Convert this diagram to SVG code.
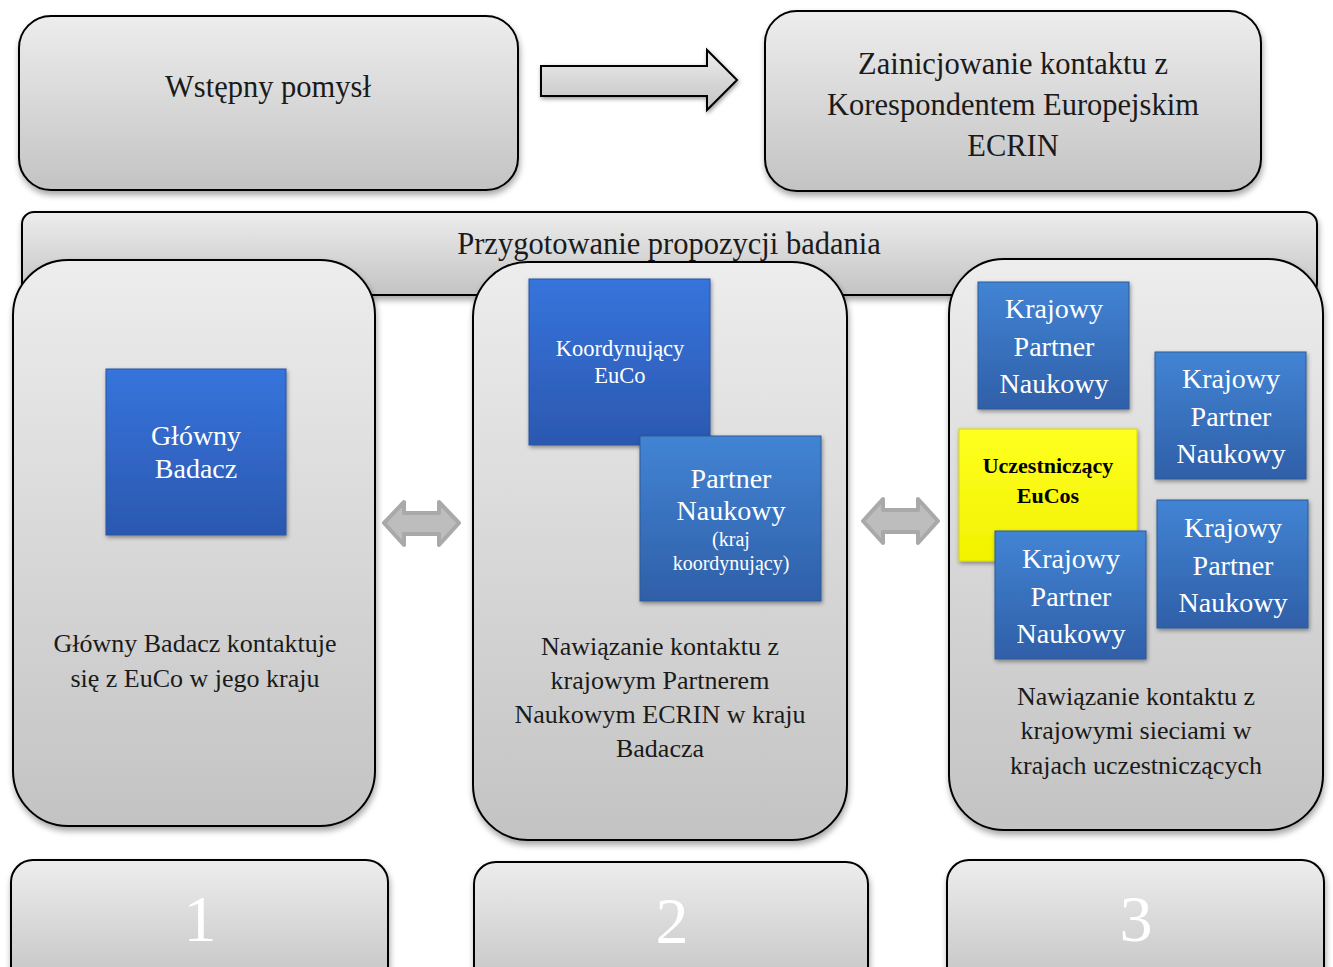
<svg xmlns="http://www.w3.org/2000/svg" width="1333" height="967" viewBox="0 0 1333 967">
<defs>
  <linearGradient id="gray" x1="0" y1="0" x2="0" y2="1">
    <stop offset="0" stop-color="#ededed"/>
    <stop offset="1" stop-color="#c3c3c3"/>
  </linearGradient>
  <linearGradient id="blue1" x1="0" y1="0" x2="0" y2="1">
    <stop offset="0" stop-color="#3674dc"/>
    <stop offset="1" stop-color="#2b58b0"/>
  </linearGradient>
  <linearGradient id="blue2" x1="0" y1="0" x2="0" y2="1">
    <stop offset="0" stop-color="#4284d4"/>
    <stop offset="1" stop-color="#2f5fa8"/>
  </linearGradient>
  <linearGradient id="yellow" x1="0" y1="0" x2="0" y2="1">
    <stop offset="0" stop-color="#ffff20"/>
    <stop offset="1" stop-color="#f2f200"/>
  </linearGradient>
  <filter id="sh" x="-10%" y="-10%" width="125%" height="125%">
    <feGaussianBlur in="SourceAlpha" stdDeviation="3"/>
    <feOffset dx="1" dy="4"/>
    <feComponentTransfer><feFuncA type="linear" slope="0.35"/></feComponentTransfer>
    <feMerge><feMergeNode/><feMergeNode in="SourceGraphic"/></feMerge>
  </filter>
  <filter id="sh2" x="-10%" y="-10%" width="125%" height="125%">
    <feGaussianBlur in="SourceAlpha" stdDeviation="2"/>
    <feOffset dx="1" dy="2"/>
    <feComponentTransfer><feFuncA type="linear" slope="0.4"/></feComponentTransfer>
    <feMerge><feMergeNode/><feMergeNode in="SourceGraphic"/></feMerge>
  </filter>
</defs>
<style>
  .gbox { fill: url(#gray); stroke: #000; stroke-width: 2; filter: url(#sh); }
  .b1 { fill: url(#blue1); stroke: #2a54a0; stroke-width: 1; filter: url(#sh2); }
  .b2 { fill: url(#blue2); stroke: #2c5a98; stroke-width: 1; filter: url(#sh2); }
  .yl { fill: url(#yellow); stroke: #d8d800; stroke-width: 1; filter: url(#sh2); }
  text { font-family: "Liberation Serif", "DejaVu Serif", serif; text-anchor: middle; }
  .dk { fill: #1a1a1a; font-size: 26px; }
  .big { fill: #1a1a1a; font-size: 30.5px; }
  .wt { fill: #ffffff; font-size: 28px; }
  .num { fill: #ffffff; font-size: 66px; }
  .dbl { fill: #bdbdbd; stroke: #a9a9a9; stroke-width: 4; stroke-linejoin: round; }
  .arr { fill: url(#gray); stroke: #000; stroke-width: 2; filter: url(#sh2); }
</style>

<rect width="1333" height="967" fill="#ffffff"/>

<g id="wstepny">
  <rect class="gbox" x="19" y="16" width="499" height="174" rx="32"/>
  <text class="big" x="268" y="97">Wstępny pomysł</text>
</g>

<g id="zainicjowanie">
  <rect class="gbox" x="765" y="11" width="496" height="180" rx="32"/>
  <text class="big" x="1013" y="74">Zainicjowanie kontaktu z</text>
  <text class="big" x="1013" y="115">Korespondentem Europejskim</text>
  <text class="big" x="1013" y="156">ECRIN</text>
</g>

<g id="przygotowanie">
  <rect class="gbox" x="22" y="212" width="1295" height="83" rx="12"/>
  <text class="big" x="669" y="254">Przygotowanie propozycji badania</text>
</g>

<g id="kolumna1">
  <rect class="gbox" x="13" y="260" width="362" height="566" rx="55"/>
  <text class="dk" x="195" y="652">Główny Badacz kontaktuje</text>
  <text class="dk" x="195" y="687">się z EuCo w jego kraju</text>
</g>

<g id="kolumna2">
  <rect class="gbox" x="473" y="262" width="374" height="578" rx="55"/>
  <text class="dk" x="660" y="655">Nawiązanie kontaktu z</text>
  <text class="dk" x="660" y="689">krajowym Partnerem</text>
  <text class="dk" x="660" y="723">Naukowym ECRIN w kraju</text>
  <text class="dk" x="660" y="757">Badacza</text>
</g>

<g id="kolumna3">
  <rect class="gbox" x="949" y="259" width="374" height="571" rx="55"/>
  <text class="dk" x="1136" y="705">Nawiązanie kontaktu z</text>
  <text class="dk" x="1136" y="739">krajowymi sieciami w</text>
  <text class="dk" x="1136" y="774">krajach uczestniczących</text>
</g>

<g id="glowny-badacz">
  <rect class="b1" x="106" y="369" width="180" height="166"/>
  <text class="wt" x="196" y="445">Główny</text>
  <text class="wt" x="196" y="478">Badacz</text>
</g>

<g id="koordynujacy-euco">
  <rect class="b1" x="529" y="279" width="181" height="166"/>
  <text class="wt" x="620" y="356" style="font-size:22.5px">Koordynujący</text>
  <text class="wt" x="620" y="383" style="font-size:22.5px">EuCo</text>
</g>

<g id="partner-naukowy">
  <rect class="b2" x="640" y="436" width="181" height="165"/>
  <text class="wt" x="731" y="488">Partner</text>
  <text class="wt" x="731" y="520">Naukowy</text>
  <text class="wt" x="731" y="546" style="font-size:20px">(kraj</text>
  <text class="wt" x="731" y="570" style="font-size:20px">koordynujący)</text>
</g>

<g id="kpn1">
  <rect class="b2" x="978" y="282" width="151" height="127"/>
  <text class="wt" x="1054" y="318">Krajowy</text>
  <text class="wt" x="1054" y="356">Partner</text>
  <text class="wt" x="1054" y="393">Naukowy</text>
</g>

<g id="kpn2">
  <rect class="b2" x="1155" y="352" width="151" height="127"/>
  <text class="wt" x="1231" y="388">Krajowy</text>
  <text class="wt" x="1231" y="426">Partner</text>
  <text class="wt" x="1231" y="463">Naukowy</text>
</g>

<g id="uczestniczacy-eucos">
  <rect class="yl" x="959" y="429" width="178" height="132"/>
  <text x="1048" y="473" style="font-size:22px;font-weight:bold;fill:#000">Uczestniczący</text>
  <text x="1048" y="503" style="font-size:22px;font-weight:bold;fill:#000">EuCos</text>
</g>

<g id="kpn4">
  <rect class="b2" x="1157" y="500" width="151" height="128"/>
  <text class="wt" x="1233" y="537">Krajowy</text>
  <text class="wt" x="1233" y="575">Partner</text>
  <text class="wt" x="1233" y="612">Naukowy</text>
</g>

<g id="kpn3">
  <rect class="b2" x="995" y="531" width="151" height="128"/>
  <text class="wt" x="1071" y="568">Krajowy</text>
  <text class="wt" x="1071" y="606">Partner</text>
  <text class="wt" x="1071" y="643">Naukowy</text>
</g>

<g id="etap1">
  <rect class="gbox" x="11" y="860" width="377" height="130" rx="22"/>
  <text class="num" x="200" y="941">1</text>
</g>
<g id="etap2">
  <rect class="gbox" x="474" y="862" width="394" height="130" rx="22"/>
  <text class="num" x="672" y="943">2</text>
</g>
<g id="etap3">
  <rect class="gbox" x="947" y="860" width="377" height="130" rx="22"/>
  <text class="num" x="1136" y="941">3</text>
</g>

<g id="connectors">
  <path class="arr" d="M541,66 L707,66 L707,50 L737,80 L707,110 L707,96 L541,96 Z"/>
  <path class="dbl" d="M384,523 L404,502 L404,513 L439,513 L439,502 L459,523 L439,545 L439,534 L404,534 L404,545 Z"/>
  <path class="dbl" d="M863,521 L883,499 L883,510 L918,510 L918,499 L938,521 L918,543 L918,532 L883,532 L883,543 Z"/>
</g>
</svg>
